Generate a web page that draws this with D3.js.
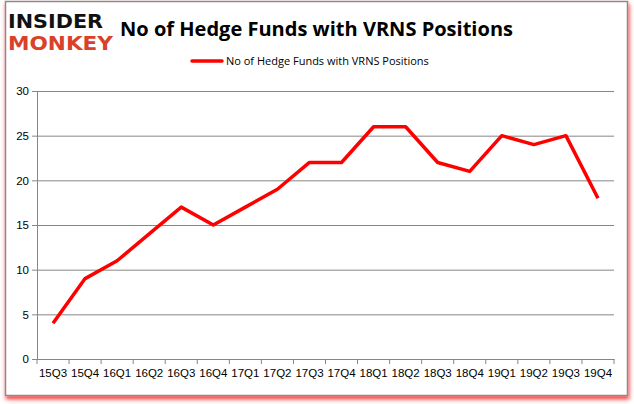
<!DOCTYPE html>
<html>
<head>
<meta charset="utf-8">
<script src="https://cdn.jsdelivr.net/npm/d3@7"></script>
<style>
  body { margin: 0; background: #fff; }
  svg { display: block; font-family: "Open Sans", "DejaVu Sans", sans-serif; }
</style>
</head>
<body>
<svg width="634" height="404"></svg>
<script>
"use strict";

// quarters on the x axis
const quarters = ["15Q3", "15Q4", "16Q1", "16Q2", "16Q3", "16Q4", "17Q1", "17Q2", "17Q3",
    "17Q4", "18Q1", "18Q2", "18Q3", "18Q4", "19Q1", "19Q2", "19Q3", "19Q4"];
// number of hedge funds holding VRNS
const funds = [4, 9, 11, 14, 17, 15, 17, 19, 22, 22, 26, 26, 22, 21, 25, 24, 25, 18];
const yTicks = [0, 5, 10, 15, 20, 25, 30];
const seriesName = "No of Hedge Funds with VRNS Positions";

const svg = d3.select("svg");

// frame with red shadow
const defs = svg.append("defs");
const f = defs.append("filter").attr("id", "shadow")
    .attr("x", "-5%").attr("y", "-5%").attr("width", "110%").attr("height", "115%");
f.append("feDropShadow")
    .attr("dx", 1).attr("dy", 3).attr("stdDeviation", 2)
    .attr("flood-color", "#ff0000").attr("flood-opacity", 0.8);

svg.append("rect")
    .attr("x", 5.5).attr("y", 1.5)
    .attr("width", 622).attr("height", 394)
    .attr("fill", "#fff")
    .attr("stroke", "#8a8a8a")
    .attr("stroke-width", 1.5)
    .attr("filter", "url(#shadow)");

// logo
svg.append("text")
    .attr("x", 8).attr("y", 28)
    .attr("font-family", "'DejaVu Sans', sans-serif")
    .attr("font-weight", "bold")
    .attr("font-size", 19)
    .attr("textLength", 95)
    .attr("lengthAdjust", "spacingAndGlyphs")
    .attr("fill", "#111")
    .text("INSIDER");
svg.append("text")
    .attr("x", 8).attr("y", 50)
    .attr("font-family", "'DejaVu Sans', sans-serif")
    .attr("font-weight", "bold")
    .attr("font-size", 19)
    .attr("textLength", 105)
    .attr("lengthAdjust", "spacingAndGlyphs")
    .attr("fill", "#d9412b")
    .text("MONKEY");

// title
svg.append("text")
    .attr("x", 120).attr("y", 36)
    .attr("font-weight", "bold")
    .attr("font-size", 20)
    .attr("textLength", 393)
    .attr("lengthAdjust", "spacingAndGlyphs")
    .attr("fill", "#000")
    .text("No of Hedge Funds with VRNS Positions");

const margin = { left: 37, right: 20, top: 91, bottom: 45 };
const width = 634 - margin.left - margin.right;
const height = 404 - margin.top - margin.bottom;

const chart = svg.append("g")
    .attr("transform", `translate(${margin.left}, ${margin.top})`);

const xScale = d3.scaleBand()
    .range([0, width])
    .domain(quarters);

const yScale = d3.scaleLinear()
    .range([height, 0])
    .domain([0, 30]);

// horizontal grid lines
chart.append("g")
    .attr("class", "grid")
    .call(d3.axisLeft(yScale)
        .tickValues(yTicks)
        .tickSize(-width)
        .tickFormat(""))
    .call(g => g.select(".domain").remove())
    .call(g => g.selectAll("line").attr("stroke", "#868686"));

// y axis
chart.append("g")
    .call(d3.axisLeft(yScale).tickValues(yTicks).tickSize(5).tickPadding(3))
    .call(g => g.select(".domain").attr("stroke", "#868686"))
    .call(g => g.selectAll("line").attr("stroke", "#868686"))
    .call(g => g.selectAll("text")
        .attr("font-size", 11.5)
        .attr("fill", "#000"));

// x axis, ticks at band edges
const xAxis = chart.append("g")
    .attr("transform", `translate(0, ${height})`)
    .call(d3.axisBottom(xScale).tickSize(0).tickPadding(10))
    .call(g => g.select(".domain").attr("stroke", "#868686"))
    .call(g => g.selectAll("text")
        .attr("font-size", 11.5)
        .attr("fill", "#000"));

xAxis.selectAll(".edge")
    .data(quarters.map(q => xScale(q)).concat([width]))
    .enter()
    .append("line")
    .attr("x1", d => d).attr("x2", d => d)
    .attr("y1", 0).attr("y2", 5)
    .attr("stroke", "#868686");

// series line
const line = d3.line()
    .x((d, i) => xScale(quarters[i]) + xScale.bandwidth() / 2)
    .y(d => yScale(d));

chart.append("path")
    .datum(funds)
    .attr("fill", "none")
    .attr("stroke", "#ff0000")
    .attr("stroke-width", 3.5)
    .attr("stroke-linejoin", "round")
    .attr("d", line);

// legend
const legend = svg.append("g").attr("transform", "translate(192, 61)");
legend.append("line")
    .attr("x1", 0).attr("x2", 30)
    .attr("y1", 0).attr("y2", 0)
    .attr("stroke", "#ff0000")
    .attr("stroke-width", 3.5)
    .attr("stroke-linecap", "round");
legend.append("text")
    .attr("x", 34).attr("y", 4)
    .attr("font-size", 11)
    .attr("fill", "#000")
    .text(seriesName);
</script>
</body>
</html>
